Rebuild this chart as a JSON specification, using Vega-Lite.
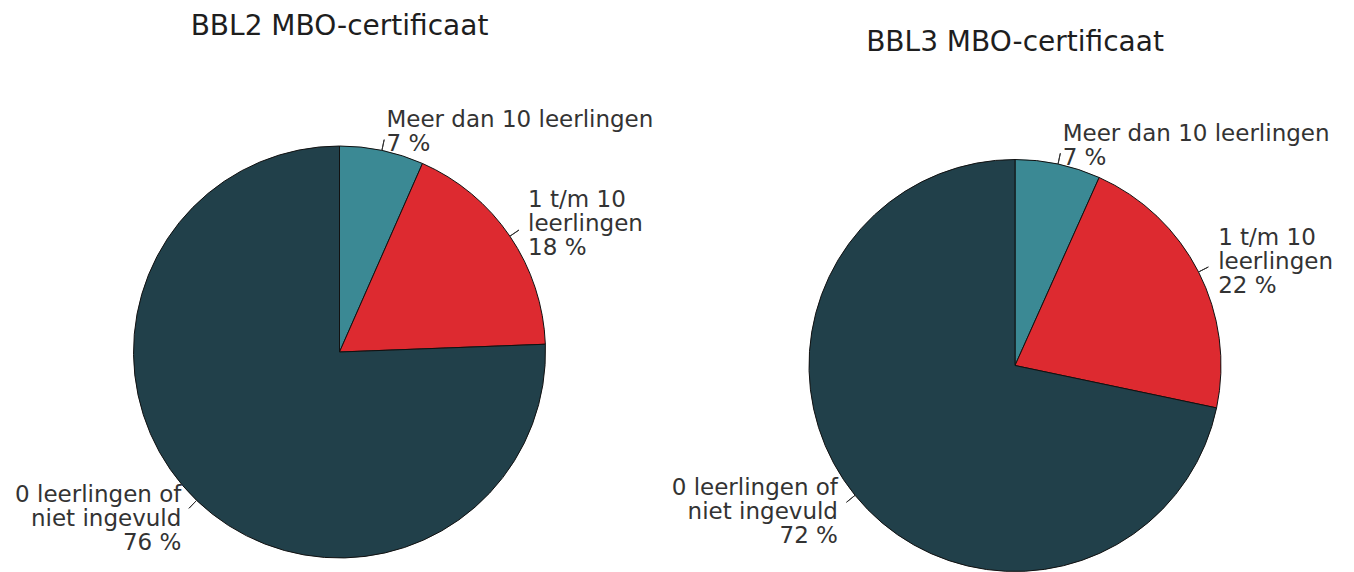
{
  "$schema": "https://vega.github.io/schema/vega-lite/v6.json",
  "padding": {"left": 0, "top": 12, "right": 0, "bottom": 0},
  "autosize": {"type": "pad"},
  "bounds": "flush",
  "spacing": 0,
  "background": "white",
  "config": {
    "view": {"stroke": null},
    "font": "DejaVu Sans",
    "title": {"fontSize": 28, "fontWeight": "normal", "color": "#1e1e1e", "anchor": "middle", "font": "DejaVu Sans"}
  },
  "datasets": {
    "bbl2": [
      {"idx": 1, "cat": "Meer dan 10 leerlingen", "value": 6.6, "label": "Meer dan 10 leerlingen\n7 %"},
      {"idx": 2, "cat": "1 t/m 10 leerlingen", "value": 17.8, "label": "1 t/m 10\nleerlingen\n18 %"},
      {"idx": 3, "cat": "0 leerlingen of niet ingevuld", "value": 75.6, "label": "0 leerlingen of\nniet ingevuld\n76 %"}
    ],
    "bbl3": [
      {"idx": 1, "cat": "Meer dan 10 leerlingen", "value": 6.7, "label": "Meer dan 10 leerlingen\n7 %"},
      {"idx": 2, "cat": "1 t/m 10 leerlingen", "value": 21.6, "label": "1 t/m 10\nleerlingen\n22 %"},
      {"idx": 3, "cat": "0 leerlingen of niet ingevuld", "value": 71.7, "label": "0 leerlingen of\nniet ingevuld\n72 %"}
    ]
  },
  "hconcat": [
    {
      "width": 679,
      "height": 300,
      "title": {"text": "BBL2 MBO-certificaat", "offset": 53},
      "data": {"name": "bbl2"},
      "encoding": {
        "theta": {"field": "value", "type": "quantitative", "stack": true},
        "order": {"field": "idx", "type": "quantitative"}
      },
      "layer": [
        {
          "mark": {"type": "arc", "radius": 206, "stroke": "#111111", "strokeWidth": 1},
          "encoding": {
            "color": {
              "field": "cat", "type": "nominal", "legend": null,
              "scale": {"domain": ["Meer dan 10 leerlingen", "1 t/m 10 leerlingen", "0 leerlingen of niet ingevuld"], "range": ["#3b8994", "#dd2a30", "#21404a"]}
            }
          }
        },
        {
          "mark": {"type": "text", "radius": 228, "align": "left", "baseline": "middle", "dy": -9, "lineBreak": "\n", "fontSize": 23, "lineHeight": 24, "color": "#333333"},
          "encoding": {"text": {"condition": {"test": "datum.cat == 'Meer dan 10 leerlingen'", "field": "label", "type": "nominal"}, "value": ""}}
        },
        {
          "mark": {"type": "text", "radius": 228, "align": "left", "baseline": "middle", "dy": -24, "lineBreak": "\n", "fontSize": 23, "lineHeight": 24, "color": "#333333"},
          "encoding": {"text": {"condition": {"test": "datum.cat == '1 t/m 10 leerlingen'", "field": "label", "type": "nominal"}, "value": ""}}
        },
        {
          "mark": {"type": "text", "radius": 228, "align": "right", "baseline": "middle", "dy": -21, "lineBreak": "\n", "fontSize": 23, "lineHeight": 24, "color": "#333333"},
          "encoding": {"text": {"condition": {"test": "datum.cat == '0 leerlingen of niet ingevuld'", "field": "label", "type": "nominal"}, "value": ""}}
        },
        {
          "transform": [
            {"stack": "value", "groupby": [], "sort": [{"field": "idx", "order": "ascending"}], "as": ["v0", "v1"]},
            {"calculate": "(datum.v0 + datum.v1) / 2", "as": "mid"}
          ],
          "mark": {"type": "arc", "radius": 217, "radius2": 206, "filled": false, "color": "#333333", "strokeWidth": 1},
          "encoding": {
            "theta": {"field": "mid", "type": "quantitative", "stack": null},
            "theta2": {"field": "mid"}
          }
        }
      ]
    },
    {
      "width": 672,
      "height": 327,
      "title": {"text": "BBL3 MBO-certificaat", "offset": 51},
      "data": {"name": "bbl3"},
      "encoding": {
        "theta": {"field": "value", "type": "quantitative", "stack": true},
        "order": {"field": "idx", "type": "quantitative"}
      },
      "layer": [
        {
          "mark": {"type": "arc", "radius": 206, "stroke": "#111111", "strokeWidth": 1},
          "encoding": {
            "color": {
              "field": "cat", "type": "nominal", "legend": null,
              "scale": {"domain": ["Meer dan 10 leerlingen", "1 t/m 10 leerlingen", "0 leerlingen of niet ingevuld"], "range": ["#3b8994", "#dd2a30", "#21404a"]}
            }
          }
        },
        {
          "mark": {"type": "text", "radius": 228, "align": "left", "baseline": "middle", "dy": -9, "lineBreak": "\n", "fontSize": 23, "lineHeight": 24, "color": "#333333"},
          "encoding": {"text": {"condition": {"test": "datum.cat == 'Meer dan 10 leerlingen'", "field": "label", "type": "nominal"}, "value": ""}}
        },
        {
          "mark": {"type": "text", "radius": 228, "align": "left", "baseline": "middle", "dy": -24, "lineBreak": "\n", "fontSize": 23, "lineHeight": 24, "color": "#333333"},
          "encoding": {"text": {"condition": {"test": "datum.cat == '1 t/m 10 leerlingen'", "field": "label", "type": "nominal"}, "value": ""}}
        },
        {
          "mark": {"type": "text", "radius": 228, "align": "right", "baseline": "middle", "dy": -21, "lineBreak": "\n", "fontSize": 23, "lineHeight": 24, "color": "#333333"},
          "encoding": {"text": {"condition": {"test": "datum.cat == '0 leerlingen of niet ingevuld'", "field": "label", "type": "nominal"}, "value": ""}}
        },
        {
          "transform": [
            {"stack": "value", "groupby": [], "sort": [{"field": "idx", "order": "ascending"}], "as": ["v0", "v1"]},
            {"calculate": "(datum.v0 + datum.v1) / 2", "as": "mid"}
          ],
          "mark": {"type": "arc", "radius": 217, "radius2": 206, "filled": false, "color": "#333333", "strokeWidth": 1},
          "encoding": {
            "theta": {"field": "mid", "type": "quantitative", "stack": null},
            "theta2": {"field": "mid"}
          }
        }
      ]
    }
  ]
}
